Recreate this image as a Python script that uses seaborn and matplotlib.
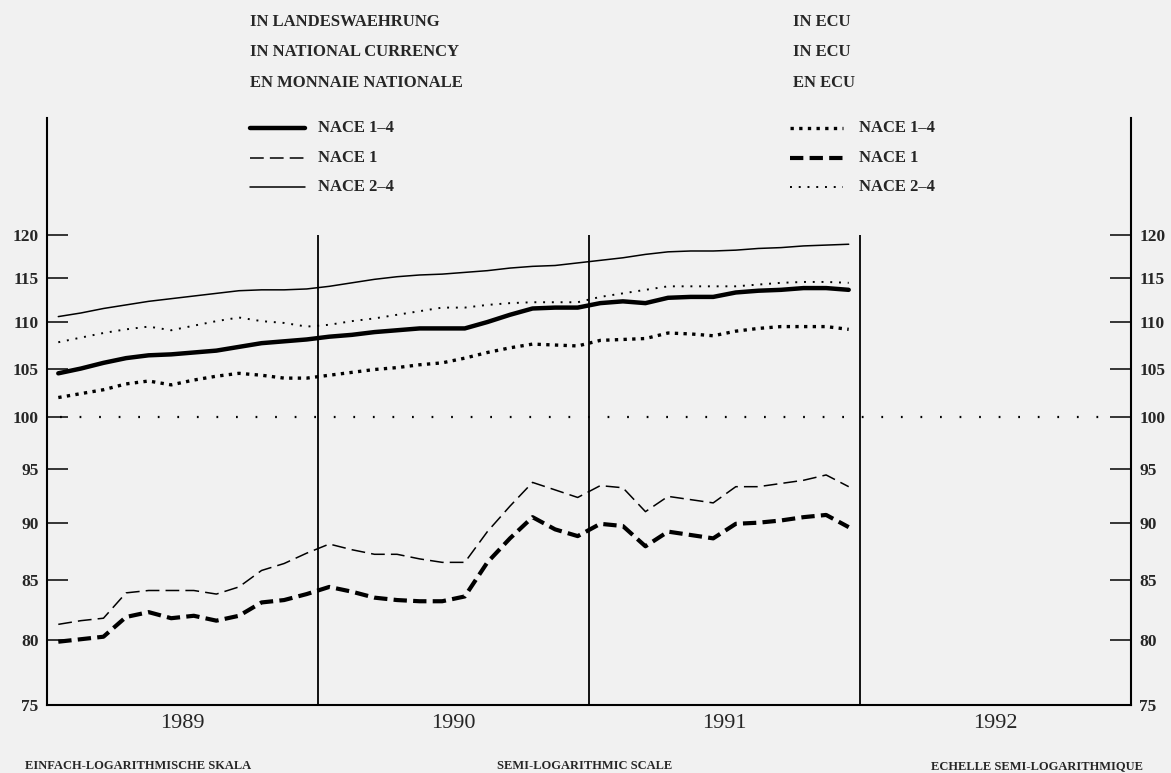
import numpy as np
import pandas as pd
import seaborn as sns
import matplotlib
matplotlib.use("Agg")
import matplotlib.pyplot as plt
from matplotlib.lines import Line2D
from matplotlib.ticker import FixedLocator, NullFormatter, NullLocator

# monthly index values, Jan 1989 .. Dec 1991
months = np.arange(36) + 0.5

nat_nace14 = [104.5, 105.0, 105.6, 106.1, 106.4, 106.5, 106.7, 106.9, 107.3, 107.7, 107.9, 108.1,
              108.4, 108.6, 108.9, 109.1, 109.3, 109.3, 109.3, 110.0, 110.8, 111.5, 111.6, 111.6,
              112.1, 112.3, 112.1, 112.7, 112.8, 112.8, 113.3, 113.5, 113.6, 113.8, 113.8, 113.6]
nat_nace1 = [81.3, 81.6, 81.8, 83.9, 84.1, 84.1, 84.1, 83.8, 84.4, 85.8, 86.4, 87.3,
             88.1, 87.6, 87.2, 87.2, 86.8, 86.5, 86.5, 89.2, 91.5, 93.7, 93.0, 92.3,
             93.4, 93.2, 91.0, 92.4, 92.1, 91.8, 93.3, 93.3, 93.6, 93.9, 94.4, 93.3]
nat_nace24 = [110.6, 111.0, 111.5, 111.9, 112.3, 112.6, 112.9, 113.2, 113.5, 113.6, 113.6, 113.7,
              114.0, 114.4, 114.8, 115.1, 115.3, 115.4, 115.6, 115.8, 116.1, 116.3, 116.4, 116.7,
              117.0, 117.3, 117.7, 118.0, 118.1, 118.1, 118.2, 118.4, 118.5, 118.7, 118.8, 118.9]
ecu_nace14 = [102.0, 102.4, 102.8, 103.4, 103.7, 103.3, 103.8, 104.2, 104.5, 104.3, 104.0, 104.0,
              104.3, 104.6, 104.9, 105.1, 105.4, 105.6, 106.1, 106.7, 107.2, 107.6, 107.5, 107.4,
              108.0, 108.1, 108.2, 108.8, 108.7, 108.5, 109.0, 109.3, 109.5, 109.5, 109.5, 109.2]
ecu_nace1 = [79.9, 80.1, 80.3, 81.9, 82.3, 81.8, 82.0, 81.6, 82.0, 83.1, 83.3, 83.8,
             84.4, 84.0, 83.5, 83.3, 83.2, 83.2, 83.6, 86.5, 88.6, 90.5, 89.4, 88.8,
             89.9, 89.7, 87.9, 89.2, 88.9, 88.6, 89.9, 90.0, 90.2, 90.5, 90.7, 89.6]
ecu_nace24 = [107.8, 108.3, 108.8, 109.2, 109.5, 109.1, 109.6, 110.1, 110.5, 110.1, 109.9, 109.5,
              109.7, 110.1, 110.4, 110.8, 111.2, 111.6, 111.6, 111.9, 112.1, 112.2, 112.2, 112.2,
              112.8, 113.2, 113.6, 114.0, 114.0, 114.0, 114.0, 114.2, 114.4, 114.5, 114.5, 114.4]

years = ["1989", "1990", "1991", "1992"]
ytick_vals = [75, 80, 85, 90, 95, 100, 105, 110, 115, 120]

# styles: (linewidth, linestyle)
styles = {
    "nat 1-4": (3.2, "-"),
    "nat 1": (1.1, (0, (9, 4))),
    "nat 2-4": (1.1, "-"),
    "ecu 1-4": (2.4, (0, (1, 1.6))),
    "ecu 1": (3.0, (0, (3.2, 1.5))),
    "ecu 2-4": (1.4, (0, (1, 3.5))),
}
series = {
    "nat 1-4": nat_nace14, "nat 1": nat_nace1, "nat 2-4": nat_nace24,
    "ecu 1-4": ecu_nace14, "ecu 1": ecu_nace1, "ecu 2-4": ecu_nace24,
}

sns.set_style("white")
plt.rcParams["font.family"] = ["Liberation Serif", "DejaVu Serif"]
bg = "#f1f1f1"

fig = plt.figure(figsize=(11.71, 7.73), dpi=100, facecolor=bg)
ax = fig.add_axes([47 / 1171, 1 - 705 / 773, 1084 / 1171, (705 - 118) / 773])
ax.set_facecolor("none")

for name, vals in series.items():
    lw, ls = styles[name]
    df = pd.DataFrame({"month": months, "value": vals})
    sns.lineplot(data=df, x="month", y="value", ax=ax, color="black",
                 linewidth=lw, linestyle=ls)

ax.set_yscale("log")
ax.set_xlim(0, 48)
ax.set_ylim(75, 134.9)

# reference line at 100 and year separators
ax.axhline(100, color="black", lw=1.6, ls=(0, (0.8, 8)), xmin=0.012, xmax=0.985)
ax.vlines([12, 24, 36], 75, 120, color="black", lw=1.3)

ax.spines["top"].set_visible(False)
for s in ["left", "right", "bottom"]:
    ax.spines[s].set_linewidth(1.5)
    ax.spines[s].set_color("black")

ax.yaxis.set_major_locator(FixedLocator(ytick_vals))
ax.yaxis.set_minor_locator(NullLocator())
ax.yaxis.set_minor_formatter(NullFormatter())
ax.set_yticklabels([str(v) for v in ytick_vals])
ax.tick_params(axis="y", which="major", direction="in", length=15, width=1.3,
               left=True, right=True, labelleft=True, labelright=True,
               labelsize=12.5, pad=6)
for lab in ax.get_yticklabels():
    lab.set_fontweight("bold")

quarters = [q for q in range(3, 48, 3) if q % 12 != 0]
ax.xaxis.set_major_locator(FixedLocator(quarters))
ax.xaxis.set_minor_locator(FixedLocator([m for m in range(1, 48) if m % 3 != 0]))
ax.xaxis.set_major_formatter(NullFormatter())
ax.tick_params(axis="x", which="major", direction="in", length=14, width=1.2)
ax.tick_params(axis="x", which="minor", direction="in", length=6, width=1.2)
ax.set_xlabel("")
ax.set_ylabel("")

for i, yr in enumerate(years):
    ax.text(6 + 12 * i, -0.016, yr, transform=ax.get_xaxis_transform(),
            ha="center", va="top", fontsize=16)


def fx(px):
    return px / 1171


def fy(py):
    return 1 - py / 773


# header blocks and legend keys
for j, t in enumerate(["IN LANDESWAEHRUNG", "IN NATIONAL CURRENCY", "EN MONNAIE NATIONALE"]):
    fig.text(fx(250), fy(22 + 30.5 * j), t, ha="left", va="center",
             fontsize=12, fontweight="bold")
for j, t in enumerate(["IN ECU", "IN ECU", "EN ECU"]):
    fig.text(fx(793), fy(22 + 30.5 * j), t, ha="left", va="center",
             fontsize=12, fontweight="bold")

labels = ["NACE 1\u20134", "NACE 1", "NACE 2\u20134"]
for j, key in enumerate(["nat 1-4", "nat 1", "nat 2-4"]):
    lw, ls = styles[key]
    y = fy(128 + 29.5 * j)
    fig.add_artist(Line2D([fx(250), fx(305)], [y, y], color="black", lw=lw, ls=ls))
    fig.text(fx(318), y, labels[j], ha="left", va="center", fontsize=12, fontweight="bold")
for j, key in enumerate(["ecu 1-4", "ecu 1", "ecu 2-4"]):
    lw, ls = styles[key]
    y = fy(128 + 29.5 * j)
    fig.add_artist(Line2D([fx(790), fx(843)], [y, y], color="black", lw=lw, ls=ls))
    fig.text(fx(859), y, labels[j], ha="left", va="center", fontsize=12, fontweight="bold")

# scale notes at the bottom
fig.text(fx(25), fy(766), "EINFACH-LOGARITHMISCHE SKALA", ha="left", va="center",
         fontsize=9, fontweight="bold")
fig.text(fx(585), fy(766), "SEMI-LOGARITHMIC SCALE", ha="center", va="center",
         fontsize=9, fontweight="bold")
fig.text(fx(1143), fy(766), "ECHELLE SEMI-LOGARITHMIQUE", ha="right", va="center",
         fontsize=9, fontweight="bold")

fig.savefig("out.png", dpi=100, facecolor=bg)
